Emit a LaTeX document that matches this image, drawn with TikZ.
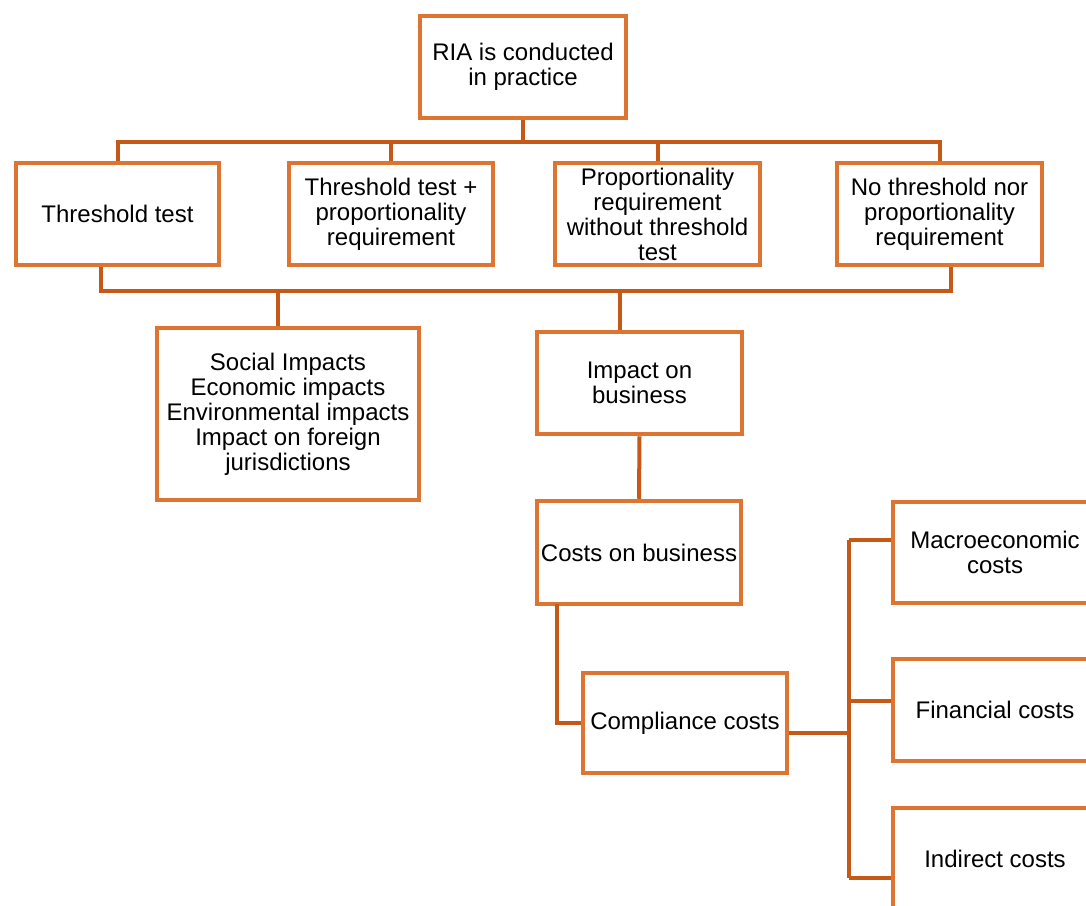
\documentclass[tikz,border=0pt]{standalone}
\usepackage{fontspec}
\setmainfont{Liberation Sans}
\definecolor{boxc}{RGB}{222,116,50}
\definecolor{connc}{RGB}{197,90,24}
\begin{document}
\begin{tikzpicture}[x=1pt,y=-1pt,
  box/.style={draw=boxc,line width=4.5pt,fill=white,inner sep=0pt,align=center,
    font=\fontsize{24}{25}\selectfont},
  conn/.style={draw=connc,line width=4pt}]
\useasboundingbox (0,0) rectangle (1086,905);
\clip (0,0) rectangle (1086,905);
% connectors first
\coordinate (bus) at (0,142);
\coordinate (lb1) at (101,291);
\coordinate (lb2) at (951,291);
\coordinate (d1) at (278,291);
\coordinate (d2) at (620,291);
\coordinate (c1) at (557,604);
\coordinate (cj) at (849,733);
\coordinate (m1) at (849,540);
\coordinate (m2) at (849,701);
\coordinate (m3) at (849,878);
% boxes
\node[box,minimum width=206pt,minimum height=102pt] (ria) at (523,67) {RIA is conducted\\in practice};
\node[box,minimum width=203pt,minimum height=102pt] (t1) at (117.5,214) {Threshold test};
\node[box,minimum width=204pt,minimum height=102pt] (t2) at (391,214) {Threshold test +\\proportionality\\requirement};
\node[box,minimum width=205pt,minimum height=102pt] (t3) at (657.5,214) {Proportionality\\requirement\\without threshold\\test};
\node[box,minimum width=205pt,minimum height=102pt] (t4) at (939.5,214) {No threshold nor\\proportionality\\requirement};
\node[box,minimum width=262pt,minimum height=172pt] (soc) at (288,414) {Social Impacts\\Economic impacts\\Environmental impacts\\Impact on foreign\\jurisdictions};
\node[box,minimum width=205pt,minimum height=102pt] (iob) at (639.5,383) {Impact on\\business};
\node[box,minimum width=204pt,minimum height=103pt] (cob) at (639,552.5) {Costs on business};
\node[box,minimum width=204pt,minimum height=100pt] (cc) at (685,723) {Compliance costs};
\node[box,minimum width=204pt,minimum height=101pt] (mac) at (995,552.5) {Macroeconomic\\costs};
\node[box,minimum width=204pt,minimum height=102pt] (fin) at (995,710) {Financial costs};
\node[box,minimum width=204pt,minimum height=102pt] (ind) at (995,859) {Indirect costs};
% connectors
\draw[conn] (ria.south) -- (ria.south |- bus);
\draw[conn] (t1.north) -- (t1.north |- bus) -- (t4.north |- bus) -- (t4.north);
\draw[conn] (t2.north) -- (t2.north |- bus);
\draw[conn] (t3.north) -- (t3.north |- bus);
\draw[conn] (lb1 |- t1.south) -- (lb1) -- (lb2) -- (lb2 |- t4.south);
\draw[conn] (d1) -- (d1 |- soc.north);
\draw[conn] (d2) -- (d2 |- iob.north);
\draw[conn] (iob.south) -- (cob.north);
\draw[conn] (c1) |- (cc.west);
\draw[conn] (cc.east |- cj) -- (cj);
\draw[conn] (m1) -- (m3);
\draw[conn] (m1) -- (m1 -| mac.west);
\draw[conn] (m2) -- (m2 -| fin.west);
\draw[conn] (m3) -- (m3 -| ind.west);
\end{tikzpicture}
\end{document}
